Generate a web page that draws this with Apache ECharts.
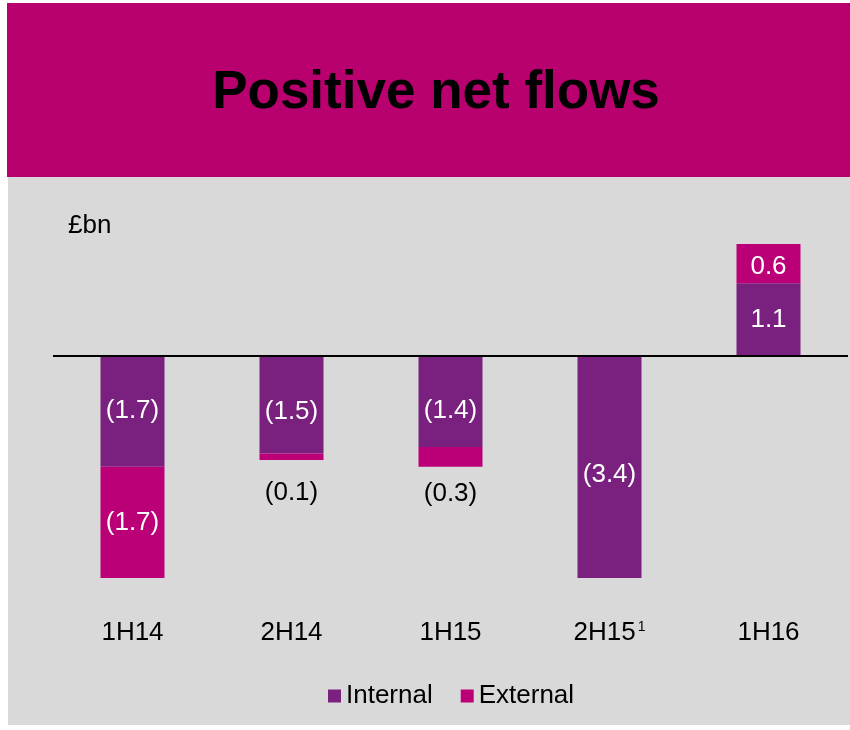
<!DOCTYPE html>
<html>
<head>
<meta charset="utf-8">
<script src="https://cdn.jsdelivr.net/npm/echarts@6/dist/echarts.min.js"></script>
<style>
html,body{margin:0;padding:0;background:#fff;}
#chart{width:850px;height:730px;}
</style>
</head>
<body>
<div id="chart"></div>
<script>
// ---- data ----
const categories = ['1H14', '2H14', '1H15', '2H15', '1H16'];
const categorySuperscripts = ['', '', '', '1', ''];
const internal = [-1.7, -1.5, -1.4, -3.4, 1.1];
const external = [-1.7, -0.1, -0.3, null, 0.6];
const seriesNames = ['Internal', 'External'];
const titleText = 'Positive net flows';
const unitText = '£bn';

// ---- styles ----
const MAGENTA = '#B9006F';
const EXTERNAL_COLOR = '#BB0077';
const PURPLE = '#7A2180';
const GREY = '#D9D9D9';
const FONT = 'Liberation Sans, Arial, sans-serif';
const internalLabelShift = [0, 7, 10, 8, 1];
const externalLabelShift = [0, 0, 0, 0, 3];
const externalOutsideDistance = [0, 20, 14, 0, 0];

function fmt(v) {
  if (v == null) return '';
  return v < 0 ? '(' + Math.abs(v).toFixed(1) + ')' : v.toFixed(1);
}

const internalData = internal.map((v, i) => ({
  value: v,
  label: { offset: [0, internalLabelShift[i]] }
}));
const externalData = external.map((v, i) => {
  if (v == null) return null;
  const small = Math.abs(v) < 0.5;
  return {
    value: v,
    label: small
      ? { position: 'bottom', color: '#000', distance: externalOutsideDistance[i] }
      : { position: 'inside', color: '#fff', offset: [0, externalLabelShift[i]] }
  };
});

const chart = echarts.init(document.getElementById('chart'), null, { renderer: 'canvas' });
chart.setOption({
  animation: false,
  backgroundColor: '#ffffff',
  textStyle: { fontFamily: FONT },
  graphic: [
    { type: 'rect', z: -10, shape: { x: 7, y: 3, width: 843, height: 174 }, style: { fill: MAGENTA } },
    { type: 'rect', z: -10, shape: { x: 8, y: 177, width: 842, height: 548 }, style: { fill: GREY } },
    { type: 'text', z: 10, left: 68, top: 213, style: { text: unitText, font: '26px ' + FONT, fill: '#000' } }
  ],
  title: {
    text: titleText,
    left: 431,
    top: 62,
    textAlign: 'center',
    textStyle: { fontFamily: FONT, fontSize: 53, fontWeight: 'bold', color: '#000' }
  },
  legend: {
    data: seriesNames,
    left: 323,
    top: 678,
    icon: 'rect',
    itemWidth: 13,
    itemHeight: 13,
    itemGap: 28,
    textStyle: { fontFamily: FONT, fontSize: 26, color: '#000' }
  },
  grid: { left: 53, right: 2, top: 244, bottom: 152 },
  xAxis: {
    type: 'category',
    data: categories,
    axisLine: { show: false },
    axisTick: { show: false },
    axisLabel: {
      interval: 0,
      margin: 42,
      fontFamily: FONT,
      fontSize: 26,
      color: '#000',
      formatter: (v, i) => categorySuperscripts[i] ? v + '{sup|' + categorySuperscripts[i] + '}' : v,
      rich: {
        sup: { fontSize: 14, fontFamily: FONT, color: '#000', verticalAlign: 'top', padding: [0, 0, 10, 2] }
      }
    }
  },
  yAxis: {
    type: 'value',
    min: -3.4,
    max: 1.7,
    show: false,
    splitLine: { show: false }
  },
  series: [
    {
      name: seriesNames[0],
      type: 'bar',
      stack: 'flows',
      barWidth: 64,
      itemStyle: { color: PURPLE },
      label: {
        show: true,
        position: 'inside',
        color: '#fff',
        fontFamily: FONT,
        fontSize: 26,
        formatter: p => fmt(p.value)
      },
      data: internalData,
      markLine: {
        silent: true,
        symbol: 'none',
        label: { show: false },
        lineStyle: { color: '#000', width: 2, type: 'solid' },
        data: [{ yAxis: 0 }]
      }
    },
    {
      name: seriesNames[1],
      type: 'bar',
      stack: 'flows',
      barWidth: 64,
      itemStyle: { color: EXTERNAL_COLOR },
      label: {
        show: true,
        position: 'inside',
        color: '#fff',
        fontFamily: FONT,
        fontSize: 26,
        formatter: p => fmt(p.value)
      },
      data: externalData
    }
  ]
});
</script>
</body>
</html>
